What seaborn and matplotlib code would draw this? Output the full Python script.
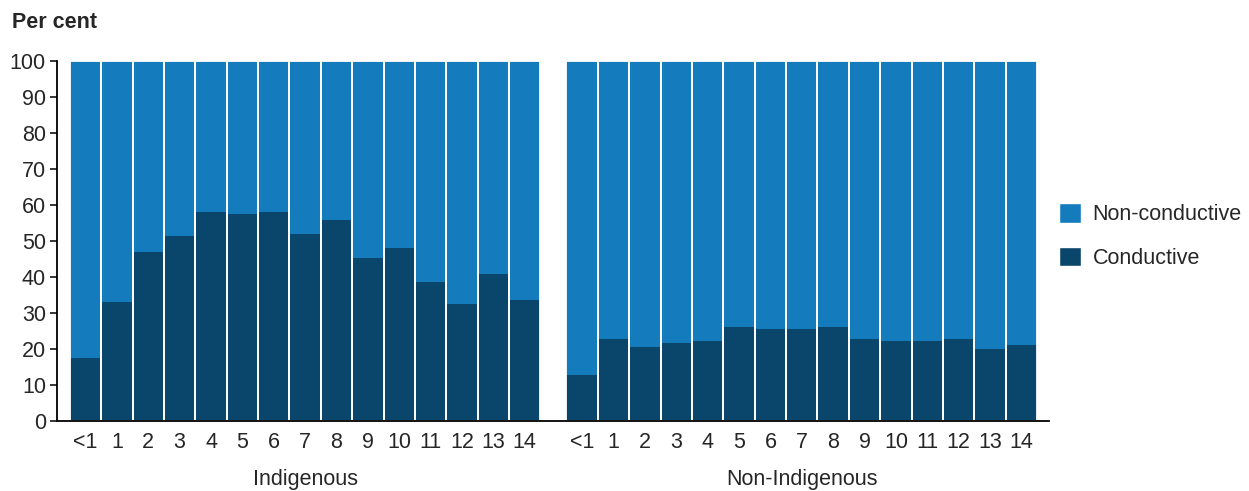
import numpy as np
import pandas as pd
import matplotlib
matplotlib.use("Agg")
import matplotlib.pyplot as plt
from matplotlib.patches import Patch
import seaborn as sns

ages = ["<1", "1", "2", "3", "4", "5", "6", "7", "8", "9", "10", "11", "12", "13", "14"]
groups = ["Indigenous", "Non-Indigenous"]
conductive_indigenous = [17.5, 33, 47, 51.3, 58, 57.4, 58, 52, 55.8, 45.2, 48, 38.5, 32.4, 40.7, 33.5]
conductive_non_indigenous = [12.8, 22.8, 20.6, 21.8, 22.3, 26.2, 25.6, 25.6, 26.2, 22.8, 22.3, 22.3, 22.8, 20.1, 21.2]

light_blue = "#147cbd"
dark_blue = "#0a466b"
fs = 15.5

sns.set_style("white")
plt.rcParams["font.family"] = ["Liberation Sans", "DejaVu Sans"]

# numeric positions so the two groups sit with a small gap
gap = 0.83
pos = list(range(len(ages))) + [len(ages) + gap + i for i in range(len(ages))]
df = pd.DataFrame({
    "pos": pos,
    "age": ages + ages,
    "group": [groups[0]] * len(ages) + [groups[1]] * len(ages),
    "Conductive": conductive_indigenous + conductive_non_indigenous,
})
df["Total"] = 100.0
df["Non-conductive"] = df["Total"] - df["Conductive"]

fig = plt.figure(figsize=(12.49, 4.91), dpi=100)
ax = fig.add_axes([57 / 1249, 1 - 421 / 491, (1049 - 57) / 1249, (421 - 61) / 491])

sns.barplot(data=df, x="pos", y="Total", native_scale=True, color=light_blue,
            width=1, linewidth=0, saturation=1, ax=ax)
sns.barplot(data=df, x="pos", y="Conductive", native_scale=True, color=dark_blue,
            width=1, linewidth=0, saturation=1, ax=ax)
# white separators between the columns
sns.barplot(data=df, x="pos", y="Total", native_scale=True, color="white",
            fill=False, width=1, linewidth=1.3, ax=ax)

ax.set_xlim(-0.91, pos[-1] + 0.88)
ax.set_ylim(0, 100)
ax.set_yticks(np.arange(0, 101, 10))
ax.set_xticks(pos)
ax.set_xticklabels(df["age"])
ax.tick_params(axis="x", length=0, pad=8, labelsize=fs)
ax.tick_params(axis="y", length=5, width=1.3, pad=3, labelsize=fs, left=True)
ax.set_xlabel("")
ax.set_ylabel("")

sns.despine(ax=ax)
ax.spines["left"].set_bounds(0, 100)
for side in ["left", "bottom"]:
    ax.spines[side].set_linewidth(1.3)
    ax.spines[side].set_color("black")
    ax.spines[side].set_zorder(5)

# group labels under the ticks
mid_ind = np.mean(pos[:len(ages)])
mid_non = np.mean(pos[len(ages):])
ax.text(mid_ind, -16.2, groups[0], ha="center", va="center", fontsize=fs, clip_on=False)
ax.text(mid_non, -16.2, groups[1], ha="center", va="center", fontsize=fs, clip_on=False)

fig.text(12 / 1249, 1 - 22 / 491, "Per cent", fontsize=fs, fontweight="bold",
         ha="left", va="center")

handles = [Patch(facecolor=light_blue, label="Non-conductive"),
           Patch(facecolor=dark_blue, label="Conductive")]
fig.legend(handles=handles, loc="upper left", bbox_to_anchor=(1055 / 1249, 1 - 199 / 491),
           frameon=False, fontsize=fs, handlelength=1.0, handleheight=1.0,
           labelspacing=1.0, handletextpad=0.55, borderaxespad=0, borderpad=0.2)

fig.savefig("out.png", dpi=100)
